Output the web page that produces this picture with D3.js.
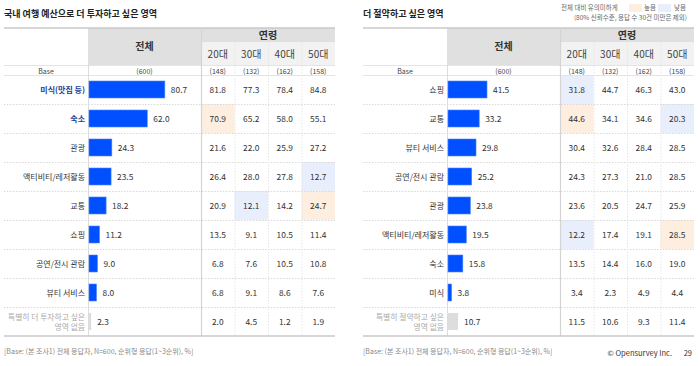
<!DOCTYPE html>
<html><head><meta charset="utf-8">
<script src="https://cdn.jsdelivr.net/npm/d3@7"></script>
<style>
html,body{margin:0;padding:0;background:#fff;}
text{font-family:"Noto Sans CJK KR","Noto Sans",sans-serif;}
</style></head>
<body><svg id="c" width="700" height="366"></svg>
<script>
// ---------- DATA ----------
const ageGroups = ["20대","30대","40대","50대"];
const baseLabels = ["(600)","(148)","(132)","(162)","(158)"];

const leftTitle = "국내 여행 예산으로 더 투자하고 싶은 영역";
const leftCats = ["미식(맛집 등)","숙소","관광","액티비티/레저활동","교통","쇼핑","공연/전시 관람","뷰티 서비스","특별히 더 투자하고 싶은|영역 없음"];
const leftTotal = [80.7,62.0,24.3,23.5,18.2,11.2,9.0,8.0,2.3];
const left20 = [81.8,70.9,21.6,26.4,20.9,13.5,6.8,6.8,2.0];
const left30 = [77.3,65.2,22.0,28.0,12.1,9.1,7.6,9.1,4.5];
const left40 = [78.4,58.0,25.9,27.8,14.2,10.5,10.5,8.6,1.2];
const left50 = [84.8,55.1,27.2,12.7,24.7,11.4,10.8,7.6,1.9];
const leftBold = [true,true,false,false,false,false,false,false,false];
// [row, ageColumn, "high"|"low"]
const leftSig = [[1,0,"high"],[3,3,"low"],[4,1,"low"],[4,3,"high"]];

const rightTitle = "더 절약하고 싶은 영역";
const rightCats = ["쇼핑","교통","뷰티 서비스","공연/전시 관람","관광","액티비티/레저활동","숙소","미식","특별히 절약하고 싶은|영역 없음"];
const rightTotal = [41.5,33.2,29.8,25.2,23.8,19.5,15.8,3.8,10.7];
const right20 = [31.8,44.6,30.4,24.3,23.6,12.2,13.5,3.4,11.5];
const right30 = [44.7,34.1,32.6,27.3,20.5,17.4,14.4,2.3,10.6];
const right40 = [46.3,34.6,28.4,21.0,24.7,19.1,16.0,4.9,9.3];
const right50 = [43.0,20.3,28.5,28.5,25.9,28.5,19.0,4.4,11.4];
const rightBold = [false,false,false,false,false,false,false,false,false];
const rightSig = [[0,0,"low"],[1,0,"high"],[1,3,"low"],[5,0,"low"],[5,3,"high"]];

const footNote = "[Base: (본 조사1) 전체 응답자, N=600, 순위형 응답(1~3순위), %]";
const legendTitle = "전체 대비 유의미하게";
const legendSub = "(80% 신뢰수준, 응답 수 30건 미만은 제외)";
const legendItems = ["높음","낮음"];

// ---------- DRAW ----------
const svg = d3.select("#c");
const sigColor = {high:"#fdeee0", low:"#e8eefc"};
const barX = d3.scaleLinear().domain([0,100]).range([0,94]);
const rowTop = 75, rowH = 29;

function drawTable(x0, title, cats, total, ages, bold, sig){
  const g = svg.append("g");
  const labelEnd = x0+84, totalEnd = x0+197, end = x0+331;
  const ageX = d3.scaleBand().domain(ageGroups).range([totalEnd, end]);
  const rowY = d3.scaleBand().domain(d3.range(cats.length)).range([rowTop, rowTop+rowH*cats.length]);

  g.append("text").attr("x",x0).attr("y",17).attr("font-size",9).attr("font-weight",700).attr("fill","#222").text(title);

  // header backgrounds
  g.append("rect").attr("x",labelEnd).attr("y",28).attr("width",totalEnd-labelEnd).attr("height",37).attr("fill","#e0e0e0");
  g.append("rect").attr("x",totalEnd).attr("y",28).attr("width",end-totalEnd).attr("height",14).attr("fill","#e0e0e0");
  g.append("rect").attr("x",totalEnd).attr("y",42).attr("width",end-totalEnd).attr("height",23).attr("fill","#f2f2f2");
  g.append("text").attr("x",(labelEnd+totalEnd)/2).attr("y",50).attr("text-anchor","middle").attr("font-size",10).attr("font-weight",700).attr("fill","#333").text("전체");
  g.append("text").attr("x",(totalEnd+end)/2).attr("y",39).attr("text-anchor","middle").attr("font-size",10).attr("font-weight",700).attr("fill","#333").text("연령");
  ageGroups.forEach(a=>{
    g.append("text").attr("x",ageX(a)+ageX.bandwidth()/2).attr("y",58).attr("text-anchor","middle").attr("font-size",10).attr("fill","#444").text(a);
  });

  // significance cells
  sig.forEach(([r,c,t])=>{
    g.append("rect").attr("x",ageX(ageGroups[c])).attr("y",rowY(r)).attr("width",ageX.bandwidth()).attr("height",rowH).attr("fill",sigColor[t]);
  });

  // base row
  g.append("text").attr("x",(x0+labelEnd)/2).attr("y",73.5).attr("text-anchor","middle").attr("font-size",7).attr("fill","#444").text("Base");
  g.append("text").attr("x",(labelEnd+totalEnd)/2).attr("y",73.5).attr("text-anchor","middle").attr("font-size",7).attr("fill","#444").text(baseLabels[0]);
  ageGroups.forEach((a,i)=>{
    g.append("text").attr("x",ageX(a)+ageX.bandwidth()/2).attr("y",73.5).attr("text-anchor","middle").attr("font-size",7).attr("fill","#444").text(baseLabels[i+1]);
  });

  // grid lines
  g.append("line").attr("x1",x0).attr("x2",end).attr("y1",28).attr("y2",28).attr("stroke","#c8c8c8").attr("stroke-width",1.5);
  g.append("line").attr("x1",x0).attr("x2",end).attr("y1",65.5).attr("y2",65.5).attr("stroke","#e4e4e4");
  g.append("line").attr("x1",x0).attr("x2",end).attr("y1",75.5).attr("y2",75.5).attr("stroke","#e4e4e4");
  d3.range(1,cats.length).forEach(i=>{
    g.append("line").attr("x1",x0).attr("x2",end).attr("y1",rowY(i)+0.5).attr("y2",rowY(i)+0.5).attr("stroke","#d8d8d8").attr("stroke-dasharray","1.5,1.5");
  });
  const bottom = rowTop+rowH*cats.length;
  g.append("line").attr("x1",labelEnd+0.5).attr("x2",labelEnd+0.5).attr("y1",65).attr("y2",bottom).attr("stroke","#dcdcdc");
  g.append("line").attr("x1",totalEnd+0.5).attr("x2",totalEnd+0.5).attr("y1",28).attr("y2",bottom).attr("stroke","#d4d4d4").attr("stroke-width",1.2);
  ageGroups.slice(1).forEach(a=>{
    g.append("line").attr("x1",ageX(a)+0.5).attr("x2",ageX(a)+0.5).attr("y1",42).attr("y2",bottom).attr("stroke","#e6e6e6").attr("stroke-dasharray","1.5,1.5");
  });
  g.append("line").attr("x1",x0).attr("x2",end).attr("y1",bottom).attr("y2",bottom).attr("stroke","#c8c8c8").attr("stroke-width",1.5);

  // rows
  cats.forEach((c,i)=>{
    const cy = rowY(i)+rowH/2;
    const last = c.includes("|");
    if(last){
      const parts = c.split("|");
      parts.forEach((p,k)=>{
        g.append("text").attr("x",labelEnd-3).attr("y",cy-1.5+k*9.5).attr("text-anchor","end").attr("font-size",7.8).attr("fill","#aaa").text(p);
      });
    } else {
      g.append("text").attr("x",labelEnd-3).attr("y",cy+3).attr("text-anchor","end").attr("font-size",8)
        .attr("font-weight",bold[i]?700:400).attr("fill",bold[i]?"#1c3c94":"#333").text(c);
    }
    const w = barX(total[i]);
    g.append("rect").attr("x",labelEnd+1).attr("y",cy-8.5).attr("width",w).attr("height",17)
      .attr("fill",last?"#dddddd":"#0050ff").attr("stroke",last?"none":"#4f86ff").attr("stroke-width",0.6);
    g.append("text").attr("x",labelEnd+1+w+6).attr("y",cy+3).attr("font-size",8.4).attr("fill","#333").text(total[i].toFixed(1));
    ageGroups.forEach((a,k)=>{
      g.append("text").attr("x",ageX(a)+ageX.bandwidth()/2).attr("y",cy+3).attr("text-anchor","middle").attr("font-size",8.4).attr("fill","#333").text(ages[k][i].toFixed(1));
    });
  });

  g.append("text").attr("x",x0).attr("y",354).attr("font-size",7).attr("fill","#888").text(footNote);
}

drawTable(4, leftTitle, leftCats, leftTotal, [left20,left30,left40,left50], leftBold, leftSig);
drawTable(363, rightTitle, rightCats, rightTotal, [right20,right30,right40,right50], rightBold, rightSig);

// legend
svg.append("text").attr("x",561).attr("y",10).attr("font-size",6.5).attr("fill","#666").text(legendTitle);
svg.append("rect").attr("x",629).attr("y",4).attr("width",13).attr("height",8).attr("fill",sigColor.high);
svg.append("text").attr("x",644).attr("y",10).attr("font-size",6.5).attr("fill","#666").text(legendItems[0]);
svg.append("rect").attr("x",658).attr("y",4).attr("width",13).attr("height",8).attr("fill",sigColor.low);
svg.append("text").attr("x",674).attr("y",10).attr("font-size",6.5).attr("fill","#666").text(legendItems[1]);
svg.append("text").attr("x",687).attr("y",20).attr("text-anchor","end").attr("font-size",6.5).attr("fill","#666").text(legendSub);

// footer right
svg.append("text").attr("x",672).attr("y",356).attr("text-anchor","end").attr("font-size",7.5).attr("fill","#333").attr("font-family","Inter, sans-serif").text("© Opensurvey Inc.");
svg.append("text").attr("x",692).attr("y",356).attr("text-anchor","end").attr("font-size",7.5).attr("fill","#333").attr("font-family","Inter, sans-serif").text("29");
</script></body></html>
